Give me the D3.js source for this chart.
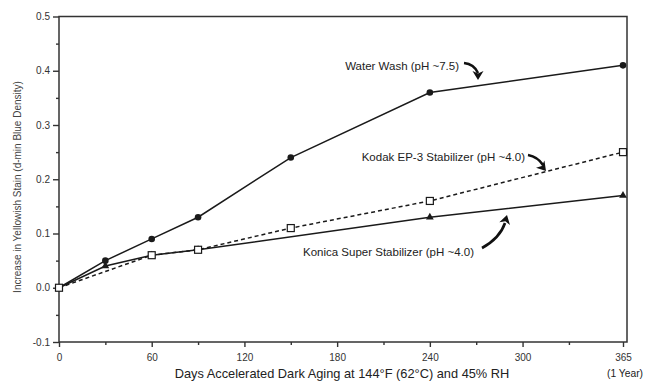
<!DOCTYPE html>
<html><head><meta charset="utf-8">
<script src="https://cdn.jsdelivr.net/npm/d3@7"></script>
<style>
html,body{margin:0;padding:0;background:#fff;}
svg{display:block;font-family:"Liberation Sans",Arial,sans-serif;}
</style></head>
<body>
<svg id="c" width="645" height="381"></svg>
<script>
// ---- data ----
const xTicks = [0, 60, 120, 180, 240, 300, 365];
const xMinorTicks = [30, 90, 150, 210, 270, 330];
const yTicks = [-0.1, 0.0, 0.1, 0.2, 0.3, 0.4, 0.5];
const yMinorTicks = [-0.05, 0.05, 0.15, 0.25, 0.35, 0.45];

const waterDays = [0, 30, 60, 90, 150, 240, 365];
const waterVals = [0.0, 0.05, 0.09, 0.13, 0.24, 0.36, 0.41];

const kodakDays = [0, 60, 90, 150, 240, 365];
const kodakVals = [0.0, 0.06, 0.07, 0.11, 0.16, 0.25];

const konicaDays = [0, 30, 60, 90, 240, 365];
const konicaVals = [0.0, 0.04, 0.06, 0.07, 0.13, 0.17];

const labels = ["Water Wash (pH ~7.5)", "Kodak EP-3 Stabilizer (pH ~4.0)", "Konica Super Stabilizer (pH ~4.0)"];
const xTitle = "Days Accelerated Dark Aging at 144°F (62°C) and 45% RH";
const yTitle = "Increase in Yellowish Stain (d-min Blue Density)";

// ---- chart ----
const svg = d3.select("#c");
const ink = "#1a1a1a";
const x = d3.scaleLinear().domain([0, 365]).range([59, 623]);
const y = d3.scaleLinear().domain([-0.1, 0.5]).range([342, 16.5]);
const xRight = 627;

// frame
svg.append("rect").attr("x", x(0)).attr("y", y(0.5))
  .attr("width", xRight - x(0)).attr("height", y(-0.1) - y(0.5))
  .attr("fill", "none").attr("stroke", "#333").attr("stroke-width", 1.5);

// y axis
const yFmt = d => d3.format(".1f")(d).replace("\u2212", "-");
const yAxis = d3.axisLeft(y).tickValues(yTicks).tickFormat(yFmt).tickSize(6).tickPadding(3);
const ga = svg.append("g").attr("transform", `translate(${x(0)},0)`).call(yAxis);
ga.select(".domain").remove();
ga.selectAll("line").attr("stroke", "#333").attr("stroke-width", 1.4);
ga.selectAll("text").attr("font-size", 10).attr("fill", "#333").attr("font-family", "Liberation Sans, Arial, sans-serif");
const gam = svg.append("g").attr("transform", `translate(${x(0)},0)`)
  .call(d3.axisLeft(y).tickValues(yMinorTicks).tickFormat("").tickSize(3));
gam.select(".domain").remove();
gam.selectAll("line").attr("stroke", "#333").attr("stroke-width", 1.4);

// x axis
const xAxis = d3.axisBottom(x).tickValues(xTicks).tickFormat(d3.format("d")).tickSize(5).tickPadding(7);
const gx = svg.append("g").attr("transform", `translate(0,${y(-0.1)})`).call(xAxis);
gx.select(".domain").remove();
gx.selectAll("line").attr("stroke", "#333").attr("stroke-width", 1.4);
gx.selectAll("text").attr("font-size", 10).attr("fill", "#333").attr("font-family", "Liberation Sans, Arial, sans-serif");
const gxm = svg.append("g").attr("transform", `translate(0,${y(-0.1)})`)
  .call(d3.axisBottom(x).tickValues(xMinorTicks).tickFormat("").tickSize(3));
gxm.select(".domain").remove();
gxm.selectAll("line").attr("stroke", "#333").attr("stroke-width", 1.4);

// axis titles
svg.append("text").attr("x", 342).attr("y", 378).attr("text-anchor", "middle")
  .attr("font-size", 12.8).attr("fill", "#222").text(xTitle);
svg.append("text").attr("x", x(365) + 2).attr("y", 377).attr("text-anchor", "middle")
  .attr("font-size", 10.3).attr("fill", "#222").text("(1 Year)");
svg.append("text").attr("transform", `translate(21,187) rotate(-90)`).attr("text-anchor", "middle")
  .attr("font-size", 10).attr("fill", "#444").text(yTitle);

const line = d3.line().x(d => x(d[0])).y(d => y(d[1]));
const zip = (a, b) => a.map((v, i) => [v, b[i]]);

// Kodak (dashed)
const kd = zip(kodakDays, kodakVals);
svg.append("path").attr("d", line(kd)).attr("fill", "none").attr("stroke", ink)
  .attr("stroke-width", 1.5).attr("stroke-dasharray", "4,3");
// Konica (solid)
const kn = zip(konicaDays, konicaVals);
svg.append("path").attr("d", line(kn)).attr("fill", "none").attr("stroke", ink).attr("stroke-width", 1.5);
// Water (solid)
const ww = zip(waterDays, waterVals);
svg.append("path").attr("d", line(ww)).attr("fill", "none").attr("stroke", ink).attr("stroke-width", 1.5);

// markers
svg.append("g").selectAll("path").data(kn.slice(1)).join("path")
  .attr("d", d3.symbol().type(d3.symbolTriangle).size(26))
  .attr("transform", d => `translate(${x(d[0])},${y(d[1])})`).attr("fill", ink);
svg.append("g").selectAll("circle").data(ww.slice(1)).join("circle")
  .attr("cx", d => x(d[0])).attr("cy", d => y(d[1])).attr("r", 3.3).attr("fill", ink);
svg.append("g").selectAll("rect").data(kd).join("rect")
  .attr("x", d => x(d[0]) - 3.5).attr("y", d => y(d[1]) - 3.5).attr("width", 7).attr("height", 7)
  .attr("fill", "#fff").attr("stroke", ink).attr("stroke-width", 1.2);

// annotations
const ann = [
  {t: labels[0], x: 459, y: 70, arrow: "M464,63 Q474,64 478,73", head: [478, 80, 90]},
  {t: labels[1], x: 525, y: 161, arrow: "M528,155 Q538,157 543,165", head: [546, 171, 50]},
  {t: labels[2], x: 474, y: 256, arrow: "M482,248 Q500,238 505,223", head: [507, 215, -75]}
];
ann.forEach(a => {
  svg.append("text").attr("x", a.x).attr("y", a.y).attr("text-anchor", "end")
    .attr("font-size", 11.5).attr("fill", "#222").text(a.t);
  svg.append("path").attr("d", a.arrow).attr("fill", "none").attr("stroke", "#111").attr("stroke-width", 2.6);
  svg.append("path").attr("d", "M0,0 L-9,-5.5 L-6.5,0 L-9,5.5 Z")
    .attr("transform", `translate(${a.head[0]},${a.head[1]}) rotate(${a.head[2]})`).attr("fill", "#111");
});
</script>
</body></html>
